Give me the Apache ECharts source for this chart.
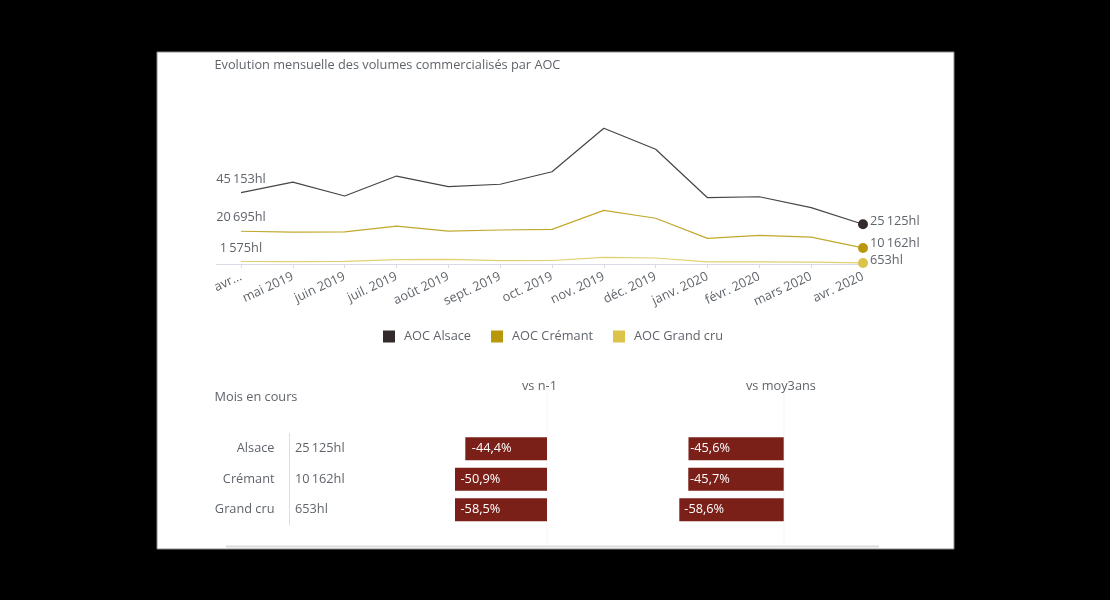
<!DOCTYPE html>
<html><head><meta charset="utf-8">
<style>html,body{margin:0;padding:0;background:#000}#c{width:1110px;height:600px}</style>
<script src="https://cdn.jsdelivr.net/npm/echarts@6/dist/echarts.min.js"></script>
</head><body><div id="c"></div>
<script>
const months = ['avr...','mai 2019','juin 2019','juil. 2019','août 2019','sept. 2019','oct. 2019','nov. 2019','déc. 2019','janv. 2020','févr. 2020','mars 2020','avr. 2020'];
const alsace = [45153,51800,43000,55600,48900,50400,58300,85800,72500,41900,42500,35600,25125];
const cremant = [20695,20200,20300,24000,20800,21500,21900,33900,28900,16200,18100,17000,10162];
const grandCru = [1575,1500,1700,2800,2900,2100,2200,4200,3800,1400,1300,1200,653];
const rows = ['Alsace','Crémant','Grand cru'];
const vsN1 = [-44.4,-50.9,-58.5];
const vsMoy3 = [-45.6,-45.7,-58.6];

const FONT = '"Open Sans", sans-serif';
const TXT = '#5f646b';
const FS = 12.75;
const fmtHl = v => String(v).replace(/\B(?=(\d{3})+$)/g,'\u2009') + 'hl';
const fmtPct = v => v.toFixed(1).replace('.',',') + '%';
const lineSeries = (name, vals, color, lineColor, endOffset) => ({
  name, type:'line', xAxisIndex:0, yAxisIndex:0, symbol:'none', showSymbol:true, silent:true,
  itemStyle:{color}, lineStyle:{color:lineColor,width:1.2},
  data: vals.map((v,i)=>{
    if(i===0) return {value:v,symbol:'circle',symbolSize:0.1,label:{show:true,position:'top',distance:7,formatter:fmtHl(v),color:TXT,fontSize:FS,fontFamily:FONT}};
    if(i===vals.length-1) return {value:v,symbol:'circle',symbolSize:10,label:{show:true,position:'right',distance:2,offset:[0,endOffset],formatter:fmtHl(v),color:TXT,fontSize:FS,fontFamily:FONT}};
    return v;
  })
});
const barSeries = (vals, idx, insets) => ({
  type:'bar', xAxisIndex:idx, yAxisIndex:idx, barWidth:23, clip:true, silent:true,
  itemStyle:{color:'#7b1f19'},
  data: vals.map((v,i)=>({value:v,label:{show:true,position:'insideLeft',distance:insets[i],formatter:fmtPct(v),color:'#fff',fontSize:FS,fontFamily:FONT}}))
});
const T = (text,left,top,extra) => ({text,left,top,padding:0,textStyle:Object.assign({color:TXT,fontSize:FS,fontWeight:'normal',fontFamily:FONT,lineHeight:16},extra||{})});
const vline = (x,y1,y2,color) => ({type:'line',shape:{x1:x,y1,x2:x,y2},style:{stroke:color,lineWidth:1},silent:true});
const barGrid = (left,width) => ({left,width,top:433.5,height:91.5});

const chart = echarts.init(document.getElementById('c'),null,{renderer:'canvas'});
chart.setOption({
  backgroundColor:'#000', animation:false,
  title:[
    T('Evolution mensuelle des volumes commercialisés par AOC',214.5,57),
    T('Mois en cours',214.5,389),
    T('vs n-1',522,378),
    T('vs moy3ans',746,378)
  ],
  graphic:[
    {type:'rect',z:-10,shape:{x:157,y:52,width:797,height:497},style:{fill:'#fff',stroke:'#8a8a8a',lineWidth:1},silent:true},
    {type:'line',z:-5,shape:{x1:216,y1:264.5,x2:241,y2:264.5},style:{stroke:'#d8dbe6',lineWidth:1},silent:true},
    Object.assign(vline(547,378,545,'#f5f5f5'),{z:-5}),
    Object.assign(vline(784,378,545,'#f5f5f5'),{z:-5}),
    {type:'rect',z:-5,shape:{x:226,y:545.5,width:653,height:2},style:{fill:'#dcdcdc'},silent:true}
  ],
  legend:{
    left:383, top:330, padding:0, itemWidth:12, itemHeight:12, itemGap:20, icon:'rect', selectedMode:false,
    textStyle:{color:TXT,fontSize:FS,fontFamily:FONT,padding:[0,0,0,4]},
    data:['AOC Alsace','AOC Crémant','AOC Grand cru']
  },
  grid:[
    {left:241,width:622,top:105.8,height:158.2},
    barGrid(455,92),
    barGrid(679.3,104.4),
    barGrid(289,100)
  ],
  xAxis:[
    {type:'category',gridIndex:0,data:months,boundaryGap:false,
      axisLine:{lineStyle:{color:'#d8dbe6'}},axisTick:{length:4,lineStyle:{color:'#d8dbe6'}},
      axisLabel:{rotate:25,interval:0,hideOverlap:false,margin:12,color:TXT,fontSize:FS,fontFamily:FONT}},
    {type:'value',gridIndex:1,min:-50,max:0,show:false},
    {type:'value',gridIndex:2,min:-50,max:0,show:false},
    {type:'value',gridIndex:3,min:0,max:1,show:false}
  ],
  yAxis:[
    {type:'value',gridIndex:0,min:0,max:100000,show:false},
    {type:'category',gridIndex:1,data:rows,inverse:true,show:false},
    {type:'category',gridIndex:2,data:rows,inverse:true,show:false},
    {type:'category',gridIndex:3,data:rows,inverse:true,
      axisLine:{show:true,lineStyle:{color:'#dedede'}},axisTick:{show:false},
      axisLabel:{margin:14.5,color:TXT,fontSize:FS,fontFamily:FONT}}
  ],
  series:[
    lineSeries('AOC Alsace',alsace,'#332b2b','#4a4444',-3),
    lineSeries('AOC Crémant',cremant,'#b8980a','#c2a92e',-5),
    lineSeries('AOC Grand cru',grandCru,'#dcc34a','#e2cf6e',-2.5),
    barSeries(vsN1,1,[6.5,5.5,5.5]),
    barSeries(vsMoy3,2,[1.7,1.7,5]),
    {type:'scatter',xAxisIndex:3,yAxisIndex:3,symbolSize:0,silent:true,itemStyle:{opacity:1},
      data:[alsace,cremant,grandCru].map((s,i)=>{const v=s[s.length-1];return {value:[0,i],label:{show:true,position:'right',distance:6,formatter:fmtHl(v),color:TXT,fontSize:FS,fontFamily:FONT}};})}
  ]
});
</script></body></html>
